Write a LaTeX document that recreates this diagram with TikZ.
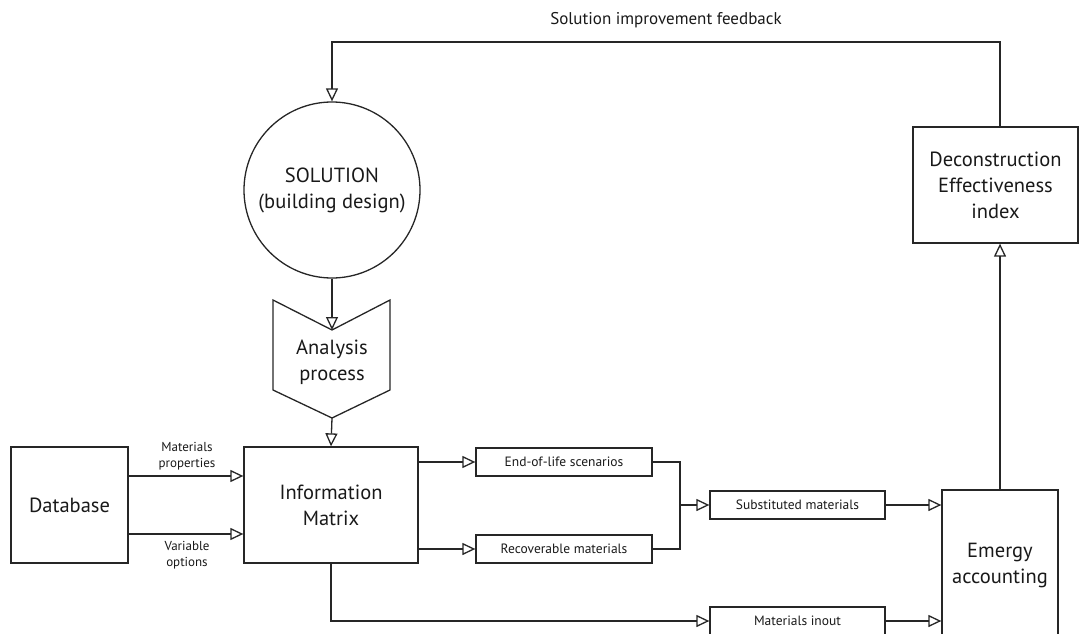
\documentclass[tikz,border=0pt]{standalone}
\usepackage{fontspec}
\setmainfont{PT Sans}
\usetikzlibrary{arrows.meta}
\begin{document}
\begin{tikzpicture}[x=1pt,y=-1pt,line width=1.3pt,draw=black!85,
  bigbox/.style={draw,rectangle,inner sep=0pt,align=center,text=black!90,
    font=\fontsize{20.5}{26}\selectfont},
  smallbox/.style={draw,rectangle,inner sep=0pt,minimum width=176pt,
    minimum height=28pt,text=black!90,font=\fontsize{13.5}{15}\selectfont},
  lbl/.style={align=center,inner sep=0pt,text=black!90,font=\fontsize{13}{16}\selectfont},
  flow/.style={-{Triangle[open,length=13pt,width=12pt,line width=1.3pt]}}]
\useasboundingbox (0,0) rectangle (1080,634);

% main blocks
\node[bigbox,circle,minimum size=176pt] (sol) at (332,190) {SOLUTION\\(building design)};
\node[bigbox,minimum width=117pt,minimum height=116pt] (db) at (69.5,505) {Database};
\node[bigbox,minimum width=174pt,minimum height=116pt] (im) at (331,505) {Information\\Matrix};
\node[bigbox,minimum width=116pt,minimum height=150pt] (em) at (1000,565) {Emergy\\accounting};
\node[bigbox,minimum width=165pt,minimum height=116pt] (dec) at (995.5,185) {Deconstruction\\Effectiveness\\index};

% analysis chevron
\coordinate (anaTop) at (332,330);
\coordinate (anaBot) at (332,418);
\draw (273,300) -- (anaTop) -- (390,300) -- (390,390) -- (anaBot) -- (273,390) -- cycle;
\node[bigbox,draw=none] (ana) at (332,362) {Analysis\\process};

% small blocks
\node[smallbox] (eol) at (564,462) {End-of-life scenarios};
\node[smallbox] (rec) at (564,549) {Recoverable materials};
\node[smallbox,minimum width=175pt] (sub) at (797.5,505) {Substituted materials};
\node[smallbox,minimum width=175pt] (inout) at (797.5,621) {Materials inout};

% connectors
\draw[flow] (sol.south) -- (anaTop);
\draw[flow] (anaBot) -- (im.north);

\draw[flow] (db.east |- 0,476) -- (im.west |- 0,476);
\draw[flow] (db.east |- 0,534) -- (im.west |- 0,534);
\node[lbl] (mp) at (187,456) {Materials\\properties};
\node[lbl] (vo) at (187,555) {Variable\\options};

\draw[flow] (im.east |- eol.west) -- (eol.west);
\draw[flow] (im.east |- rec.west) -- (rec.west);

\coordinate (j) at (680,505);
\draw (eol.east) -| (j);
\draw (rec.east) -| (j);
\draw[flow] (j) -- (sub.west);
\draw[flow] (sub.east) -- (em.west |- sub.east);

\draw[flow] (im.south) |- (inout.west);
\draw[flow] (inout.east) -- (em.west |- inout.east);

\draw[flow] (em.north) -- (dec.south -| em.north);

\coordinate (fb) at (666,42);
\draw[flow] (dec.north -| em.north) |- (fb) -| (sol.north);
\node[lbl,font=\fontsize{17}{20}\selectfont] (fbl) at (666,20) {Solution improvement feedback};
\end{tikzpicture}
\end{document}
